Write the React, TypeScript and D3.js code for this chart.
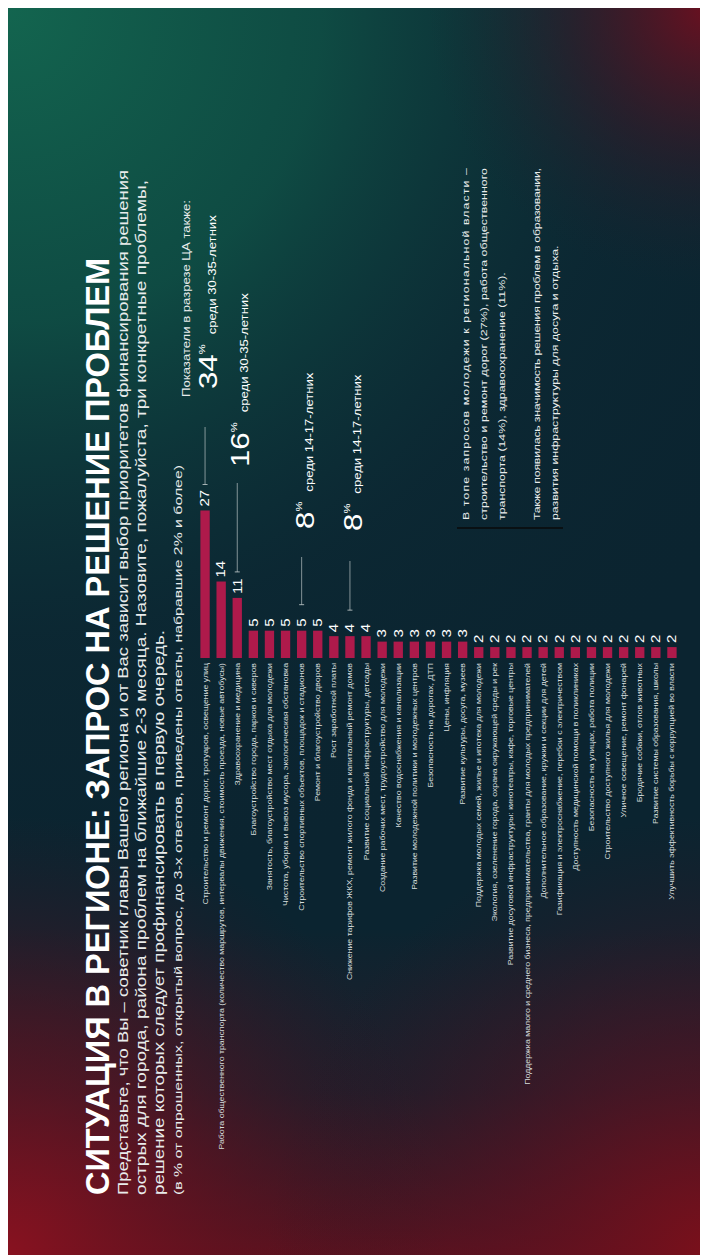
import React from "react";
import * as d3 from "d3";

const titleText = "СИТУАЦИЯ В РЕГИОНЕ: ЗАПРОС НА РЕШЕНИЕ ПРОБЛЕМ";
const questionLines = [
  "Представьте, что Вы – советник главы Вашего региона и от Вас зависит выбор приоритетов финансирования решения",
  "острых для города, района проблем на ближайшие 2-3 месяца. Назовите, пожалуйста, три конкретные проблемы,",
  "решение которых следует профинансировать в первую очередь.",
];
const noteLine =
  "(в % от опрошенных, открытый вопрос, до 3-х ответов, приведены ответы, набравшие 2% и более)";

const categories = [
  "Строительство и ремонт дорог, тротуаров, освещение улиц",
  "Работа общественного транспорта (количество маршрутов, интервалы движения, стоимость проезда, новые автобусы)",
  "Здравоохранение и медицина",
  "Благоустройство города, парков и скверов",
  "Занятость, благоустройство мест отдыха для молодежи",
  "Чистота, уборка и вывоз мусора, экологическая обстановка",
  "Строительство спортивных объектов, площадок и стадионов",
  "Ремонт и благоустройство дворов",
  "Рост заработной платы",
  "Снижение тарифов ЖКХ, ремонт жилого фонда и капитальный ремонт домов",
  "Развитие социальной инфраструктуры, детсады",
  "Создание рабочих мест, трудоустройство для молодежи",
  "Качество водоснабжения и канализации",
  "Развитие молодежной политики и молодежных центров",
  "Безопасность на дорогах, ДТП",
  "Цены, инфляция",
  "Развитие культуры, досуга, музеев",
  "Поддержка молодых семей, жилье и ипотека для молодежи",
  "Экология, озеленение города, охрана окружающей среды и рек",
  "Развитие досуговой инфраструктуры: кинотеатры, кафе, торговые центры",
  "Поддержка малого и среднего бизнеса, предпринимательства, гранты для молодых предпринимателей",
  "Дополнительное образование, кружки и секции для детей",
  "Газификация и электроснабжение, перебои с электричеством",
  "Доступность медицинской помощи в поликлиниках",
  "Безопасность на улицах, работа полиции",
  "Строительство доступного жилья для молодежи",
  "Уличное освещение, ремонт фонарей",
  "Бродячие собаки, отлов животных",
  "Развитие системы образования, школы",
  "Улучшить эффективность борьбы с коррупцией во власти",
];
const values = [
  27, 14, 11, 5, 5, 5, 5, 5, 4, 4, 4, 3, 3, 3, 3, 3, 3, 2, 2, 2, 2, 2, 2, 2, 2, 2, 2, 2, 2, 2,
];

const segmentsHeader = "Показатели в разрезе ЦА также:";
const highlightIndex = [0, 2, 6, 9];
const highlightPct = [34, 16, 8, 8];
const highlightGroup = [
  "среди 30-35-летних",
  "среди 30-35-летних",
  "среди 14-17-летних",
  "среди 14-17-летних",
];
const conclusionLines = [
  "В топе запросов молодежи к региональной власти –",
  "строительство и ремонт дорог (27%), работа общественного",
  "транспорта (14%), здравоохранение (11%).",
  "Также появилась значимость решения проблем в образовании,",
  "развития инфраструктуры для досуга и отдыха.",
];

const SVG_W = 700;
const SVG_H = 1247;
const S = 1.25; // horizontal glyph stretch in reading frame
const FONT = "'Liberation Sans', Arial, sans-serif";

function Txt(props: any) {
  const { x, y, s = S, children, ...rest } = props;
  return (
    <g transform={`translate(${x},${y}) scale(${s},1)`}>
      <text x={0} y={0} fontFamily={FONT} {...rest}>
        {children}
      </text>
    </g>
  );
}

export default function App() {
  const y = d3
    .scaleBand<string>()
    .domain(categories)
    .range([189, 672])
    .paddingInner(0.42)
    .paddingOuter(0.21);
  const x = d3.scaleLinear().domain([0, 27]).range([597, 744.5]);

  const annLayout = [
    { lineEnd: 828, numX: 866 },
    { lineEnd: 772, numX: 788 },
    { lineEnd: 698, numX: 726 },
    { lineEnd: 694, numX: 724 },
  ];

  const textFill = "#e9ecec";
  // justified block: full lines stretched to the block width (in unscaled units)
  const blockW = 352 / S;
  const fullLine = [true, true, false, true, false];

  return (
    <>
      <style>{`body{overflow:hidden}`}</style>
      <svg width={SVG_W} height={SVG_H} style={{ display: "block" }}>
        <defs>
          <radialGradient id="gGreen" gradientUnits="userSpaceOnUse" cx={0} cy={0} r={900}>
            <stop offset="0" stopColor="#13654f" stopOpacity="1" />
            <stop offset="0.35" stopColor="#0f4f45" stopOpacity="0.9" />
            <stop offset="0.7" stopColor="#0d3039" stopOpacity="0.3" />
            <stop offset="1" stopColor="#0b2530" stopOpacity="0" />
          </radialGradient>
          <linearGradient id="gRedBottom" x1="0" y1="0" x2="0" y2="1">
            <stop offset="0" stopColor="#6a0f1c" stopOpacity="0" />
            <stop offset="0.5" stopColor="#4a1220" stopOpacity="0.3" />
            <stop offset="1" stopColor="#6e0f1b" stopOpacity="0.9" />
          </linearGradient>
          <radialGradient id="gRedBL" gradientUnits="userSpaceOnUse" cx={0} cy={SVG_H} r={440}>
            <stop offset="0" stopColor="#881220" stopOpacity="1" />
            <stop offset="0.5" stopColor="#5e1220" stopOpacity="0.6" />
            <stop offset="1" stopColor="#3a1422" stopOpacity="0" />
          </radialGradient>
          <radialGradient id="gRedBR" gradientUnits="userSpaceOnUse" cx={SVG_W} cy={SVG_H} r={440}>
            <stop offset="0" stopColor="#7a101b" stopOpacity="1" />
            <stop offset="0.5" stopColor="#541222" stopOpacity="0.55" />
            <stop offset="1" stopColor="#301725" stopOpacity="0" />
          </radialGradient>
          <radialGradient id="gRedTR" gradientUnits="userSpaceOnUse" cx={SVG_W} cy={0} r={280}>
            <stop offset="0" stopColor="#6a1020" stopOpacity="1" />
            <stop offset="0.5" stopColor="#3e1826" stopOpacity="0.5" />
            <stop offset="1" stopColor="#1a2630" stopOpacity="0" />
          </radialGradient>
        </defs>
        <rect width={SVG_W} height={SVG_H} fill="#0b2430" />
        <rect width={SVG_W} height={SVG_H} fill="url(#gGreen)" />
        <rect y={920} width={SVG_W} height={SVG_H - 920} fill="url(#gRedBottom)" />
        <rect width={SVG_W} height={SVG_H} fill="url(#gRedBL)" />
        <rect width={SVG_W} height={SVG_H} fill="url(#gRedBR)" />
        <rect width={SVG_W} height={SVG_H} fill="url(#gRedTR)" />

        <g transform={`translate(0,${SVG_H}) rotate(-90)`}>
          {/* Title */}
          <text
            x={60}
            y={101}
            fontFamily={FONT}
            fontWeight="bold"
            fontSize={33}
            fill="#ffffff"
            textLength={937}
            lengthAdjust="spacingAndGlyphs"
          >
            {titleText}
          </text>

          {/* Question */}
          {questionLines.map((l, i) => (
            <text
              key={i}
              x={60}
              y={120 + i * 18}
              fontFamily={FONT}
              fontSize={14.5}
              fill={textFill}
              textLength={[1025, 1015, 565][i]}
              lengthAdjust="spacingAndGlyphs"
            >
              {l}
            </text>
          ))}
          <text
            x={60}
            y={174}
            fontFamily={FONT}
            fontSize={11.5}
            fill={textFill}
            textLength={730}
            lengthAdjust="spacingAndGlyphs"
          >
            {noteLine}
          </text>

          {/* Bars */}
          {categories.map((c, i) => (
            <rect
              key={c}
              x={x(0)}
              y={y(c)}
              width={x(values[i]) - x(0)}
              height={y.bandwidth()}
              fill="#ae1a4b"
            />
          ))}
          {categories.map((c, i) => (
            <Txt
              key={"v" + c}
              x={x(values[i]) + 4}
              y={(y(c) as number) + y.bandwidth() / 2 + 4.3}
              fontSize={12}
              fill="#ffffff"
            >
              {values[i]}
            </Txt>
          ))}
          {categories.map((c) => (
            <Txt
              key={"l" + c}
              x={x(0) - 5}
              y={(y(c) as number) + y.bandwidth() / 2 + 2.5}
              fontSize={7}
              fill="#d8dede"
              textAnchor="end"
            >
              {c}
            </Txt>
          ))}

          {/* Annotations */}
          <text
            x={858}
            y={182}
            fontFamily={FONT}
            fontSize={10.5}
            fill={textFill}
            textLength={197}
            lengthAdjust="spacingAndGlyphs"
          >
            {segmentsHeader}
          </text>
          {highlightIndex.map((bi, k) => {
            const c = categories[bi];
            const cy = (y(c) as number) + y.bandwidth() / 2;
            const start = x(values[bi]) + 26;
            const L = annLayout[k];
            return (
              <g key={"a" + k}>
                <line
                  x1={start}
                  x2={L.lineEnd}
                  y1={cy}
                  y2={cy}
                  stroke="#c9d0d0"
                  strokeWidth={0.8}
                  opacity={0.8}
                />
                <line x1={start} x2={start} y1={cy - 2.5} y2={cy + 2.5} stroke="#c9d0d0" strokeWidth={0.8} />
                <Txt x={L.numX} y={cy + 12} fontSize={25} fill="#ffffff">
                  {highlightPct[k]}
                  <tspan fontSize={9} dy={-12}>
                    %
                  </tspan>
                  <tspan fontSize={10.5} dy={11} dx={8}>
                    {highlightGroup[k]}
                  </tspan>
                </Txt>
              </g>
            );
          })}

          {/* Conclusion */}
          <line x1={727} x2={727} y1={449} y2={555} stroke="#0a0a0a" strokeWidth={1.6} />
          {conclusionLines.map((l, i) => (
            <Txt
              key={"c" + i}
              x={735}
              y={461 + i * 18 + (i >= 3 ? 17 : 0)}
              fontSize={9.9}
              fill={textFill}
              {...(fullLine[i] ? { textLength: blockW, lengthAdjust: "spacing" } : {})}
            >
              {l}
            </Txt>
          ))}
        </g>
      </svg>
    </>
  );
}
